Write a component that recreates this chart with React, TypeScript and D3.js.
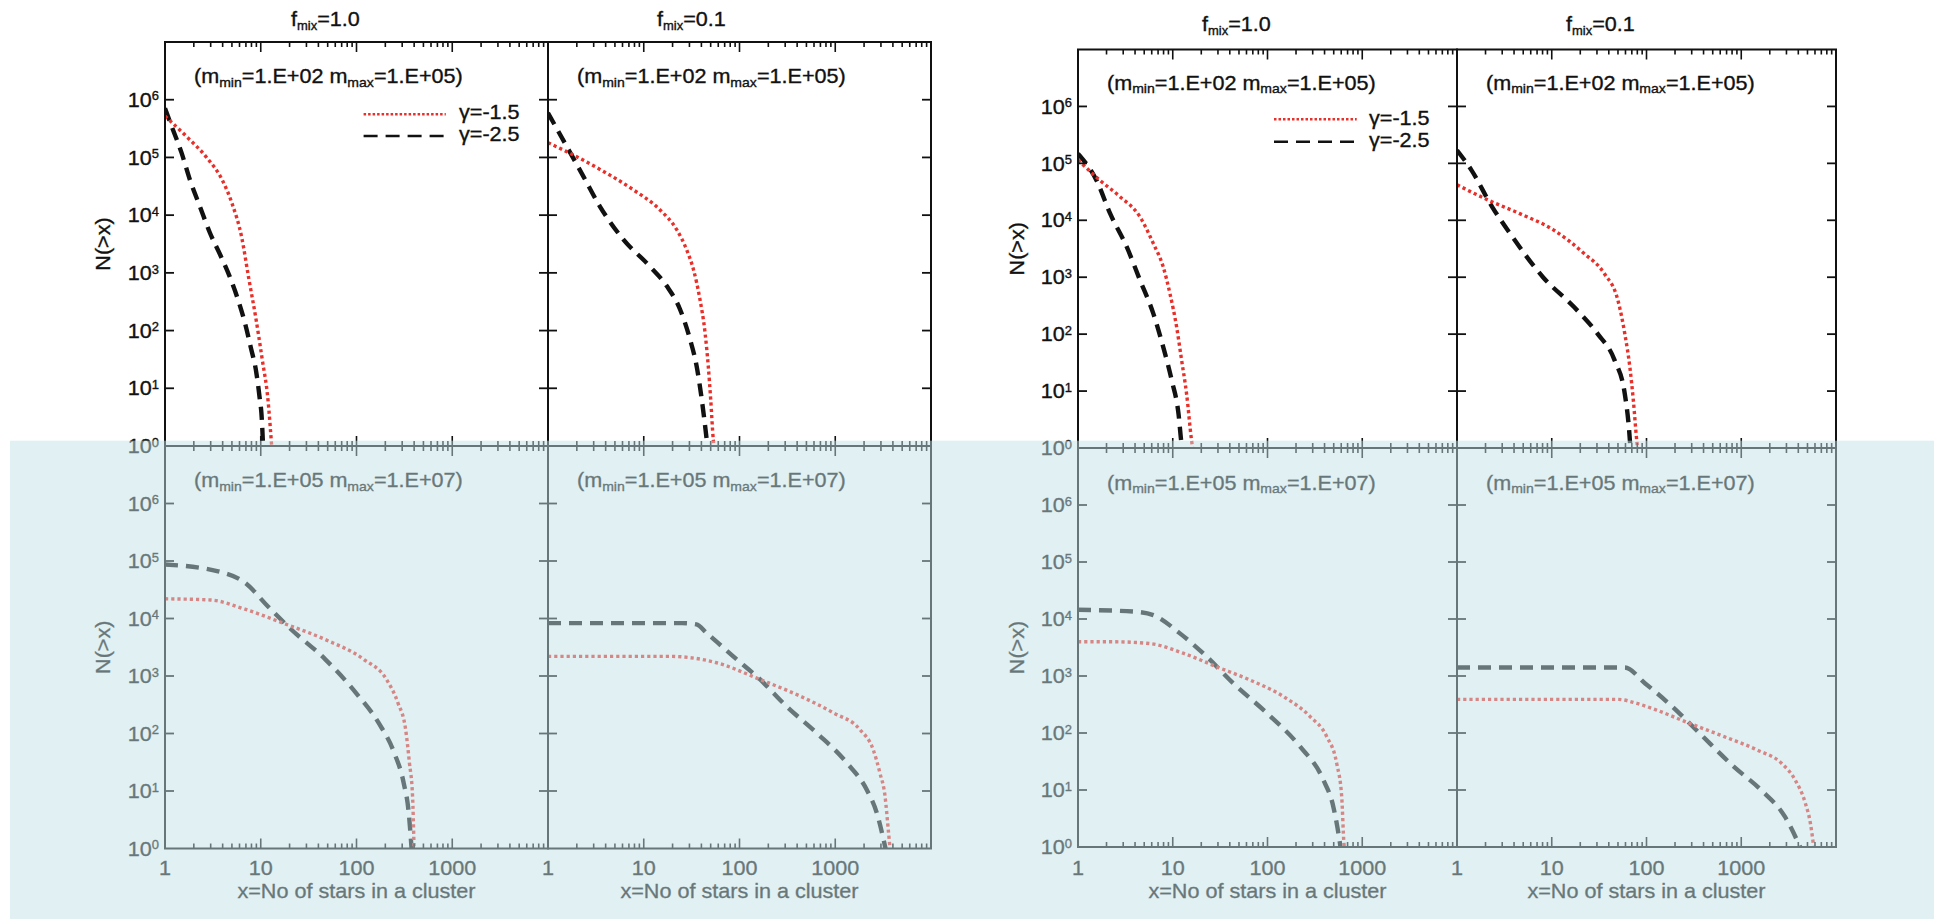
import React from 'react';
import * as d3 from 'd3';

type Pt = [number, number];

// ---------- labels ----------
const fmixLabels = ['1.0', '0.1'];
const massRangeTop = ['1.E+02', '1.E+05'];
const massRangeBottom = ['1.E+05', '1.E+07'];
const gammaLabels = ['γ=-1.5', 'γ=-2.5'];
const xTickValues = [1, 10, 100, 1000];
const yTickExponents = [0, 1, 2, 3, 4, 5, 6];
const xAxisTitle = 'x=No of stars in a cluster';
const yAxisTitle = 'N(>x)';
const xDomain: [number, number] = [1, 1e4];
const yDomain: [number, number] = [1, 1e7];

// ---------- data: [x, N(>x)] ----------
// left figure, top row (m_min=1e2, m_max=1e5)
const leftTopF10G15: Pt[] = [[1, 5.2e5], [1.68, 2.3e5], [2.72, 1.0e5], [3.98, 4.0e4], [5.01, 1.6e4], [6.31, 4200], [7.5, 800], [8.91, 160], [10.35, 32], [11.9, 6.3], [13.0, 1]];
const leftTopF10G25: Pt[] = [[1, 7.1e5], [1.17, 3.5e5], [1.49, 1.2e5], [1.82, 4.1e4], [2.32, 1.4e4], [2.95, 4900], [3.8, 2000], [4.73, 870], [5.75, 355], [6.84, 135], [7.85, 52], [9.02, 18], [9.7, 7.2], [10.26, 2.9], [10.57, 1]];
const leftTopF01G15: Pt[] = [[1, 1.8e5], [1.57, 1.26e5], [3.49, 6.2e4], [7.78, 2.75e4], [14.8, 1.23e4], [22.1, 5600], [28.1, 2500], [33.0, 1150], [38.6, 350], [43.7, 91], [47.2, 24], [50.0, 6.5], [53.2, 1.3], [54, 1]];
const leftTopF01G25: Pt[] = [[1, 5.9e5], [1.57, 1.55e5], [2.34, 4.7e4], [3.49, 1.41e4], [6.11, 3800], [11.6, 1290], [17.4, 590], [23.9, 234], [30.4, 71], [35.7, 24], [40.3, 6.5], [45.4, 1.3], [46.2, 1]];
// left figure, bottom row (m_min=1e5, m_max=1e7)
const leftBotF10G15: Pt[] = [[1, 2.2e4], [2.99, 2.1e4], [6.84, 1.45e4], [17.1, 8300], [47.2, 4300], [119, 1950], [206, 870], [271, 340], [326, 117], [357, 31], [385, 8.1], [399, 1]];
const leftBotF10G25: Pt[] = [[1, 8.7e4], [3.59, 6.6e4], [6.84, 4.2e4], [11.9, 1.62e4], [20.7, 6500], [47.2, 1950], [98.6, 510], [171, 151], [248, 46], [311, 13.8], [351, 4.2], [376, 1]];
const leftBotF01G15: Pt[] = [[1, 2190], [20, 2190], [30.2, 2090], [57.8, 1700], [164, 870], [429, 447], [955, 229], [1811, 117], [2495, 52], [2931, 20.4], [3311, 8.1], [3581, 2.1], [3733, 1]];
const leftBotF01G25: Pt[] = [[1, 8300], [25, 8300], [35.5, 7900], [45.4, 5600], [86, 2190], [164, 870], [311, 295], [640, 102], [1318, 31], [2133, 10.5], [2710, 4.2], [3350, 1]];
// right figure, top row
const rightTopF10G15: Pt[] = [[1, 1.15e5], [1.71, 5.0e4], [2.77, 2.6e4], [4.51, 1.15e4], [6.24, 3900], [7.94, 1510], [9.35, 513], [11.0, 132], [12.4, 35], [14.0, 8.9], [15.8, 1.35], [16.2, 1]];
const rightTopF10G25: Pt[] = [[1, 1.48e5], [1.57, 5.0e4], [2.18, 1.32e4], [3.27, 3400], [4.51, 890], [6.24, 229], [7.94, 59], [9.75, 15.5], [11.5, 4.0], [12.4, 1.17], [12.6, 1]];
const rightTopF01G15: Pt[] = [[1, 4.2e4], [2.16, 2.24e4], [4.54, 1.32e4], [10.4, 6800], [21.8, 2630], [36.0, 1150], [50.0, 389], [59.0, 102], [66.8, 26], [72.6, 6.9], [78.9, 1.35], [80.4, 1]];
const rightTopF01G25: Pt[] = [[1, 1.7e5], [1.42, 7.6e4], [2.34, 1.74e4], [3.85, 5100], [8.09, 1000], [17.1, 302], [30.4, 102], [46.0, 35], [59.0, 8.9], [66.8, 1.35], [67.6, 1]];
// right figure, bottom row
const rightBotF10G15: Pt[] = [[1, 4000], [2.5, 3980], [5.75, 3700], [12.9, 2510], [29.1, 1450], [65.3, 851], [147, 437], [281, 195], [421, 87], [537, 29.5], [607, 7.6], [641, 1.15], [646, 1]];
const rightBotF10G25: Pt[] = [[1, 1.45e4], [3.84, 1.35e4], [6.24, 1.17e4], [11.9, 5600], [22.8, 2190], [43.6, 741], [98.2, 224], [220, 58], [388, 15.1], [495, 5.1], [582, 1.15], [589, 1]];
const rightBotF01G15: Pt[] = [[1, 389], [50, 389], [79, 331], [124, 257], [284, 148], [652, 87], [1489, 50], [2661, 29.5], [3698, 15.1], [4742, 5.9], [5370, 2.6], [5821, 1]];
const rightBotF01G25: Pt[] = [[1, 1410], [59, 1410], [96.8, 741], [188, 288], [365, 98], [834, 25.7], [1618, 10], [2891, 3.4], [4188, 1]];

// ---------- layout ----------
const SX = 1.08;
const FONT = 'Liberation Sans, Arial, Helvetica, sans-serif';
const INK = '#111';
const RED = '#e8302a';

const FIGS = [
  {
    x0: 165, xDiv: 548, x1: 931, yTop: 42, yMid: 446, yBot: 848.5, yTitleX: 110, titleY: 26, titleX: [291, 657],
    annoY: [83, 487.3], legLine: [363.6, 445.8], legY: [114.3, 136], legTextX: 459, legTextY: [119.3, 140.7],
    curves: [
      [[leftTopF10G15, leftTopF10G25], [leftTopF01G15, leftTopF01G25]],
      [[leftBotF10G15, leftBotF10G25], [leftBotF01G15, leftBotF01G25]],
    ],
  },
  {
    x0: 1078, xDiv: 1457, x1: 1836, yTop: 49.5, yMid: 448, yBot: 847, yTitleX: 1024, titleY: 31, titleX: [1202, 1566],
    annoY: [89.5, 489.5], legLine: [1274, 1356.7], legY: [119.3, 141.7], legTextX: 1369, legTextY: [125, 146.7],
    curves: [
      [[rightTopF10G15, rightTopF10G25], [rightTopF01G15, rightTopF01G25]],
      [[rightBotF10G15, rightBotF10G25], [rightBotF01G15, rightBotF01G25]],
    ],
  },
];

function T(props: { x: number; y: number; anchor?: string; size?: number; rotate?: number; children: any }) {
  const { x, y, anchor = 'start', size = 20, rotate = 0, children } = props;
  return (
    <text
      transform={`translate(${x},${y}) rotate(${rotate}) scale(${SX},1)`}
      textAnchor={anchor}
      fontSize={size}
      fill={INK}
      stroke={INK}
      strokeWidth={0.35}
      fontFamily={FONT}
    >
      {children}
    </text>
  );
}

function Panel(props: {
  id: string; px0: number; px1: number; py0: number; py1: number; curves: Pt[][];
  yLabels: boolean; xLabels: boolean; range: string[]; annoY: number;
}) {
  const { id, px0, px1, py0, py1, curves, yLabels, xLabels, range, annoY } = props;
  const x = d3.scaleLog().domain(xDomain).range([px0, px1]);
  const y = d3.scaleLog().domain(yDomain).range([py1, py0]);
  const line = d3.line<Pt>().x((d) => x(d[0])).y((d) => y(d[1])).curve(d3.curveMonotoneX);
  const xt = x.ticks();
  const isMajor = (v: number) => Math.abs(Math.log10(v) - Math.round(Math.log10(v))) < 1e-9;
  const yt = yTickExponents.slice(1).map((e) => Math.pow(10, e));
  return (
    <g>
      <clipPath id={`clip-${id}`}>
        <rect x={px0} y={py0} width={px1 - px0} height={py1 - py0} />
      </clipPath>
      <g clipPath={`url(#clip-${id})`}>
        <path d={line(curves[1]) || ''} fill="none" stroke={INK} strokeWidth={4.4} strokeDasharray="13 8" />
        <path d={line(curves[0]) || ''} fill="none" stroke={RED} strokeWidth={3.4} strokeDasharray="3.2 3" />
      </g>
      <rect x={px0} y={py0} width={px1 - px0} height={py1 - py0} fill="none" stroke={INK} strokeWidth={2} />
      {xt.map((v, i) => {
        const L = isMajor(v) ? 10 : 5;
        const xx = x(v);
        return (
          <g key={`xt${i}`} stroke={INK} strokeWidth={1.6}>
            <line x1={xx} x2={xx} y1={py1} y2={py1 - L} />
            <line x1={xx} x2={xx} y1={py0} y2={py0 + L} />
          </g>
        );
      })}
      {yt.map((v, i) => (
        <g key={`yt${i}`} stroke={INK} strokeWidth={1.8}>
          <line x1={px0} x2={px0 + 9} y1={y(v)} y2={y(v)} />
          <line x1={px1} x2={px1 - 9} y1={y(v)} y2={y(v)} />
        </g>
      ))}
      {yLabels &&
        yTickExponents.map((e) => (
          <T key={`yl${e}`} x={px0 - 6} y={y(Math.pow(10, e)) + 7.2} anchor="end">
            10<tspan dy={-6.5} fontSize={12}>{e}</tspan>
          </T>
        ))}
      {xLabels &&
        xTickValues.map((v) => (
          <T key={`xl${v}`} x={x(v)} y={875} anchor="middle">
            {String(v)}
          </T>
        ))}
      {xLabels && (
        <T x={(px0 + px1) / 2} y={898} anchor="middle">
          {xAxisTitle}
        </T>
      )}
      <T x={px0 + 29} y={annoY}>
        (m<tspan dy={3.5} fontSize={13}>min</tspan>
        <tspan dy={-3.5}>={range[0]} m</tspan>
        <tspan dy={3.5} fontSize={13}>max</tspan>
        <tspan dy={-3.5}>={range[1]})</tspan>
      </T>
    </g>
  );
}

export default function App() {
  return (
    <svg
      width={1934}
      height={919}
      style={{ position: 'absolute', left: 0, top: 0, display: 'block', background: '#fff' }}
    >
      <rect x={0} y={0} width={1934} height={919} fill="#fff" />
      {FIGS.map((f, fi) => (
        <g key={`fig${fi}`}>
          {[0, 1].map((row) =>
            [0, 1].map((col) => (
              <Panel
                key={`p${fi}${row}${col}`}
                id={`p${fi}${row}${col}`}
                px0={col === 0 ? f.x0 : f.xDiv}
                px1={col === 0 ? f.xDiv : f.x1}
                py0={row === 0 ? f.yTop : f.yMid}
                py1={row === 0 ? f.yMid : f.yBot}
                curves={f.curves[row][col]}
                yLabels={col === 0}
                xLabels={row === 1}
                range={row === 0 ? massRangeTop : massRangeBottom}
                annoY={f.annoY[row]}
              />
            ))
          )}
          {fmixLabels.map((lab, col) => (
            <T key={`t${col}`} x={f.titleX[col]} y={f.titleY}>
              f<tspan dy={4} fontSize={12}>mix</tspan>
              <tspan dy={-4}>={lab}</tspan>
            </T>
          ))}
          <T x={f.yTitleX} y={(f.yTop + f.yMid) / 2} anchor="middle" rotate={-90}>
            {yAxisTitle}
          </T>
          <T x={f.yTitleX} y={(f.yMid + f.yBot) / 2} anchor="middle" rotate={-90}>
            {yAxisTitle}
          </T>
          <line x1={f.legLine[0]} x2={f.legLine[1]} y1={f.legY[0]} y2={f.legY[0]} stroke={RED} strokeWidth={2.5} strokeDasharray="2.5 2" />
          <line x1={f.legLine[0]} x2={f.legLine[1]} y1={f.legY[1]} y2={f.legY[1]} stroke={INK} strokeWidth={2.5} strokeDasharray="14 8" />
          {gammaLabels.map((g, gi) => (
            <T key={`g${gi}`} x={f.legTextX} y={f.legTextY[gi]}>
              {g}
            </T>
          ))}
        </g>
      ))}
      <rect x={10} y={440.7} width={1924} height={478.3} fill="rgb(194,224,229)" fillOpacity={0.49} />
    </svg>
  );
}
